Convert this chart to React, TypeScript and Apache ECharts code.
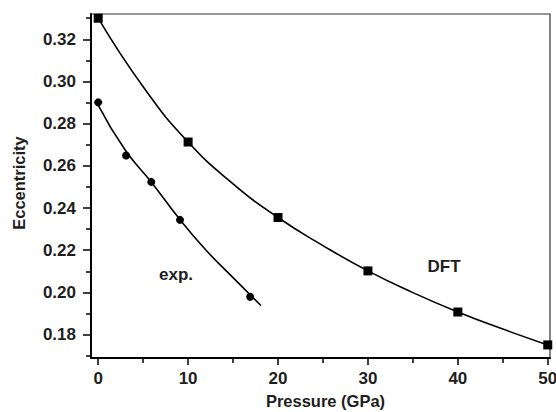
import React, { useEffect, useRef } from "react";
import * as echarts from "echarts";

// DFT results (squares)
const dftPressure = [0, 10, 20, 30, 40, 50];
const dftEcc = [0.33, 0.2713, 0.2355, 0.2102, 0.1907, 0.1751];

// fitted curve through the DFT results
const dftFitPressure = [0, 5, 10, 15, 20, 25, 30, 35, 40, 45, 50];
const dftFitEcc = [0.33, 0.2975, 0.2713, 0.2515, 0.2355, 0.2222, 0.2102, 0.1999, 0.1907, 0.1826, 0.1751];

// experimental points (circles)
const expPressure = [0, 3.1, 5.9, 9.1, 16.9];
const expEcc = [0.2901, 0.2649, 0.2524, 0.2344, 0.1979];

const expFitPressure = [0, 3, 6, 9, 12, 15, 18.1];
const expFitEcc = [0.2888, 0.2675, 0.2518, 0.235, 0.22, 0.207, 0.1938];

const xMajorTicks = [0, 10, 20, 30, 40, 50];
const xMinorTicks = [5, 15, 25, 35, 45];
const yMajorTicks = [0.18, 0.2, 0.22, 0.24, 0.26, 0.28, 0.3, 0.32];
const yMinorTicks = [0.17, 0.19, 0.21, 0.23, 0.25, 0.27, 0.29, 0.31, 0.33];

const X_MIN = -0.8;
const X_MAX = 50.25;
const Y_MIN = 0.1689;
const Y_MAX = 0.332;

const FONT = "'Liberation Sans', Arial, sans-serif";
const TXT = "#1e1e1e";

export default function App() {
  const ref = useRef<HTMLDivElement>(null);
  useEffect(() => {
    if (!ref.current) return;
    const chart = echarts.init(ref.current, null, { renderer: "svg" });
    const zip = (xs: number[], ys: number[]) => xs.map((x, i) => [x, ys[i]]);
    const axisTxt = { fontFamily: FONT, fontWeight: "bold" as const, fontSize: 17, color: TXT };
    chart.setOption({
      animation: false,
      backgroundColor: "#fff",
      grid: {
        left: 91,
        right: 6,
        top: 14,
        bottom: 54,
        outerBoundsMode: "none",
        containLabel: false,
        show: true,
        borderColor: "#333",
        borderWidth: 1.2,
        backgroundColor: "transparent",
      },
      xAxis: [
        {
          type: "value",
          min: X_MIN,
          max: X_MAX,
          position: "bottom",
          name: "Pressure (GPa)",
          nameLocation: "middle",
          nameGap: 34,
          nameTextStyle: { ...axisTxt, fontSize: 16.5, padding: [0, 0, 0, 10] },
          axisLine: { show: true, onZero: false, lineStyle: { color: "#000", width: 2 } },
          axisTick: { show: true, inside: false, length: 7, customValues: xMajorTicks, lineStyle: { color: "#000", width: 1.5 } },
          axisLabel: { ...axisTxt, margin: 12, customValues: xMajorTicks, formatter: (v: number) => String(v) },
          splitLine: { show: false },
        },
        {
          type: "value",
          min: X_MIN,
          max: X_MAX,
          position: "bottom",
          axisLine: { show: false, onZero: false },
          axisTick: { show: true, inside: false, length: 5, customValues: xMinorTicks, lineStyle: { color: "#000", width: 1.5 } },
          axisLabel: { show: false },
          splitLine: { show: false },
        },
      ],
      yAxis: [
        {
          type: "value",
          min: Y_MIN,
          max: Y_MAX,
          position: "left",
          name: "Eccentricity",
          nameLocation: "middle",
          nameGap: 64,
          nameTextStyle: { ...axisTxt, fontSize: 16.5, padding: [0, 0, 0, 6] },
          axisLine: { show: true, onZero: false, lineStyle: { color: "#000", width: 2 } },
          axisTick: { show: true, inside: false, length: 8, customValues: yMajorTicks, lineStyle: { color: "#000", width: 1.5 } },
          axisLabel: { ...axisTxt, margin: 15, customValues: yMajorTicks, formatter: (v: number) => v.toFixed(2) },
          splitLine: { show: false },
        },
        {
          type: "value",
          min: Y_MIN,
          max: Y_MAX,
          position: "left",
          axisLine: { show: false, onZero: false },
          axisTick: { show: true, inside: false, length: 5, customValues: yMinorTicks, lineStyle: { color: "#000", width: 1.5 } },
          axisLabel: { show: false },
          splitLine: { show: false },
        },
      ],
      series: [
        {
          name: "DFT fit",
          type: "line",
          xAxisIndex: 0,
          yAxisIndex: 0,
          data: zip(dftFitPressure, dftFitEcc),
          smooth: true,
          symbol: "none",
          showSymbol: false,
          lineStyle: { color: "#000", width: 1.6 },
          z: 2,
        },
        {
          name: "DFT",
          type: "scatter",
          xAxisIndex: 0,
          yAxisIndex: 0,
          data: zip(dftPressure, dftEcc),
          symbol: "rect",
          symbolSize: 9,
          itemStyle: { color: "#000", opacity: 1 },
          z: 4,
        },
        {
          name: "exp fit",
          type: "line",
          xAxisIndex: 0,
          yAxisIndex: 0,
          data: zip(expFitPressure, expFitEcc),
          smooth: true,
          symbol: "none",
          showSymbol: false,
          lineStyle: { color: "#000", width: 1.6 },
          z: 2,
        },
        {
          name: "exp.",
          type: "scatter",
          xAxisIndex: 0,
          yAxisIndex: 0,
          data: zip(expPressure, expEcc),
          symbol: "circle",
          symbolSize: 8,
          itemStyle: { color: "#000", opacity: 1 },
          z: 4,
        },
      ],
      graphic: [
        {
          type: "text",
          x: 176,
          y: 274,
          style: { text: "exp.", font: `bold 17px ${FONT}`, fill: TXT, align: "center", verticalAlign: "middle" },
        },
        {
          type: "text",
          x: 444,
          y: 266,
          style: { text: "DFT", font: `bold 17px ${FONT}`, fill: TXT, align: "center", verticalAlign: "middle" },
        },
      ],
    });
    return () => chart.dispose();
  }, []);
  return (
    <div
      ref={ref}
      style={{ position: "fixed", left: 0, top: 0, width: 556, height: 412, background: "#fff" }}
    />
  );
}
